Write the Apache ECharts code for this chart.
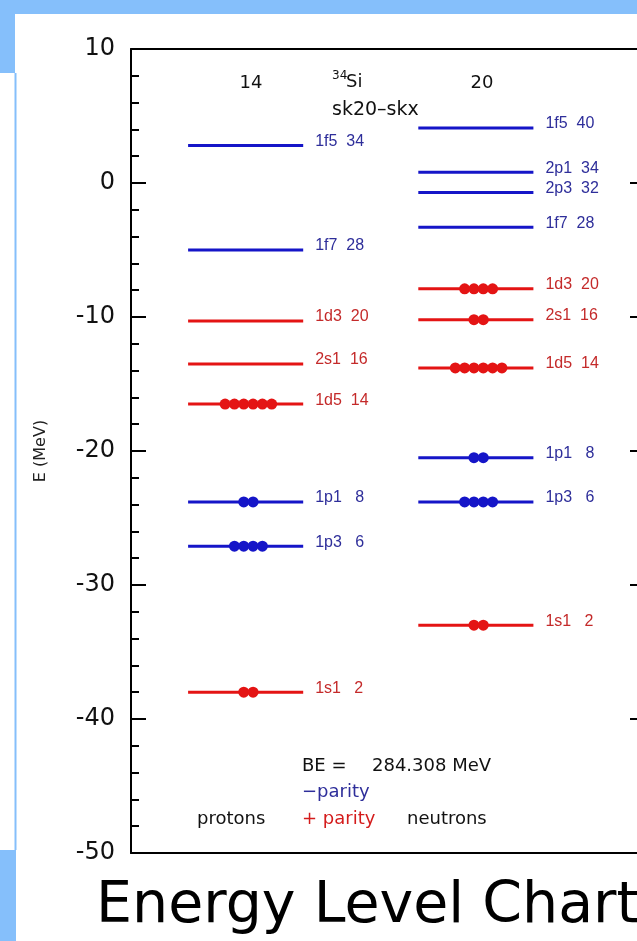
<!DOCTYPE html>
<html>
<head>
<meta charset="utf-8">
<script src="https://cdn.jsdelivr.net/npm/echarts@6/dist/echarts.min.js"></script>
<style>
  html, body { margin: 0; padding: 0; background: #fff; }
  #chart { width: 637px; height: 941px; }
</style>
</head>
<body>
<div id="chart"></div>
<script>
// 34Si, sk20-skx single-particle levels (column 0 = protons, 1 = neutrons)
const protonOrbits = ['1f5', '1f7', '1d3', '2s1', '1d5', '1p1', '1p3', '1s1'];
const protonEnergy = [2.8, -5.0, -10.3, -13.5, -16.5, -23.8, -27.1, -38.0];
const protonCount = [34, 28, 20, 16, 14, 8, 6, 2];
const protonOcc = [0, 0, 0, 0, 6, 2, 4, 2];
const protonParity = [-1, -1, 1, 1, 1, -1, -1, 1];

const neutronOrbits = ['1f5', '2p1', '2p3', '1f7', '1d3', '2s1', '1d5', '1p1', '1p3', '1s1'];
const neutronEnergy = [4.1, 0.8, -0.7, -3.3, -7.9, -10.2, -13.8, -20.5, -23.8, -33.0];
const neutronCount = [40, 34, 32, 28, 20, 16, 14, 8, 6, 2];
const neutronOcc = [0, 0, 0, 0, 4, 2, 6, 2, 4, 2];
const neutronParity = [-1, -1, -1, -1, 1, 1, 1, -1, -1, 1];

const yMin = -50, yMax = 10, yStep = 10;

const BLUE = '#1515c8';
const RED = '#e41414';
const BLUE_TXT = '#2e2e9a';
const RED_TXT = '#c42a2a';
const HALF = 0.25;      // half length of a level line, x units
const DOT_GAP = 0.0405; // spacing between particle dots
const DOT_SHIFT = 0.012;

// build level list
const levels = [];
function addColumn(col, orbits, energy, count, occ, parity) {
  orbits.forEach((o, i) => {
    const n = count[i] < 10 ? '   ' + count[i] : '  ' + count[i];
    levels.push({ col, e: energy[i], text: o + n, occ: occ[i], parity: parity[i] });
  });
}
addColumn(0, protonOrbits, protonEnergy, protonCount, protonOcc, protonParity);
addColumn(1, neutronOrbits, neutronEnergy, neutronCount, neutronOcc, neutronParity);

const dotsBlue = [], dotsRed = [];
levels.forEach(l => {
  for (let i = 0; i < l.occ; i++) {
    const x = l.col + DOT_SHIFT + (i - (l.occ - 1) / 2) * DOT_GAP;
    (l.parity < 0 ? dotsBlue : dotsRed).push([x, l.e]);
  }
});

const chart = echarts.init(document.getElementById('chart'));
const txt = (text, x, y, size, color, align) => ({
  type: 'text', x, y, z: 10,
  style: {
    text, fill: color || '#111', font: size + 'px "DejaVu Sans"',
    textAlign: align || 'left', verticalAlign: 'middle'
  }
});
const frameX = pos => ({
  type: 'value', min: -0.498, max: 1.70, position: pos,
  axisLine: { show: true, onZero: false, lineStyle: { color: '#000', width: 2 } },
  axisTick: { show: false }, axisLabel: { show: false }, splitLine: { show: false }
});

chart.setOption({
  animation: false,
  backgroundColor: '#fff',
  grid: { left: 131, top: 49, right: 0, height: 804 },
  xAxis: [frameX('bottom'), frameX('top')],
  yAxis: [
    {
      type: 'value', min: yMin, max: yMax, interval: yStep,
      name: 'E (MeV)', nameLocation: 'middle', nameRotate: 90, nameGap: 82,
      nameTextStyle: { fontFamily: 'DejaVu Sans', fontSize: 16, color: '#222' },
      axisLine: { show: true, onZero: false, lineStyle: { color: '#000', width: 2 } },
      axisTick: { show: true, inside: true, length: 15, lineStyle: { color: '#000', width: 2 } },
      minorTick: { show: true, splitNumber: 5, length: 8, lineStyle: { color: '#000', width: 2 } },
      splitLine: { show: false },
      axisLabel: { fontFamily: 'DejaVu Sans', fontSize: 24, color: '#111', margin: 16 }
    },
    {
      type: 'value', min: yMin, max: yMax, interval: yStep, position: 'right',
      axisLine: { show: false, onZero: false },
      axisTick: { show: true, inside: true, length: 7, lineStyle: { color: '#000', width: 2 } },
      axisLabel: { show: false },
      splitLine: { show: false }
    }
  ],
  graphic: [
    { type: 'rect', shape: { x: 0, y: 0, width: 637, height: 14 }, style: { fill: '#85bffb' }, z: -10 },
    { type: 'rect', shape: { x: 0, y: 0, width: 15, height: 73 }, style: { fill: '#85bffb' }, z: -10 },
    { type: 'rect', shape: { x: 14.5, y: 73, width: 2, height: 777 }, style: { fill: '#85bffb' }, z: -10 },
    { type: 'rect', shape: { x: 0, y: 850, width: 16, height: 91 }, style: { fill: '#85bffb' }, z: -10 },
    txt('14', 251, 83, 18, '#111', 'center'),
    txt('20', 482, 83, 18, '#111', 'center'),
    txt('34', 332, 76, 12),
    txt('Si', 346, 82, 18),
    txt('sk20\u2013skx', 332, 110, 19),
    txt('BE =', 302, 766, 18),
    txt('284.308 MeV', 372, 766, 18),
    txt('\u2212parity', 302, 792, 18, BLUE_TXT),
    txt('+ parity', 302, 819, 18, '#d41c1c'),
    txt('protons', 197, 819, 18),
    txt('neutrons', 407, 819, 18),
    txt('Energy Level Chart', 96, 907, 57, '#000')
  ],
  series: [
    {
      type: 'custom',
      data: levels.map(l => [l.col, l.e]),
      renderItem(params, api) {
        const l = levels[params.dataIndex];
        const a = api.coord([l.col - HALF, l.e]);
        const b = api.coord([l.col + HALF, l.e]);
        const neg = l.parity < 0;
        return {
          type: 'group',
          children: [
            { type: 'line', shape: { x1: a[0], y1: a[1], x2: b[0], y2: b[1] },
              style: { stroke: neg ? BLUE : RED, lineWidth: 3 } },
            { type: 'text', x: b[0] + 12, y: a[1] - 4,
              style: { text: l.text, fill: neg ? BLUE_TXT : RED_TXT,
                font: '16px "Liberation Sans"', verticalAlign: 'middle', textAlign: 'left' } }
          ]
        };
      }
    },
    { type: 'scatter', data: dotsBlue, symbolSize: 11, itemStyle: { color: BLUE, opacity: 1 }, z: 5 },
    { type: 'scatter', data: dotsRed, symbolSize: 11, itemStyle: { color: RED, opacity: 1 }, z: 5 }
  ]
});
</script>
</body>
</html>
